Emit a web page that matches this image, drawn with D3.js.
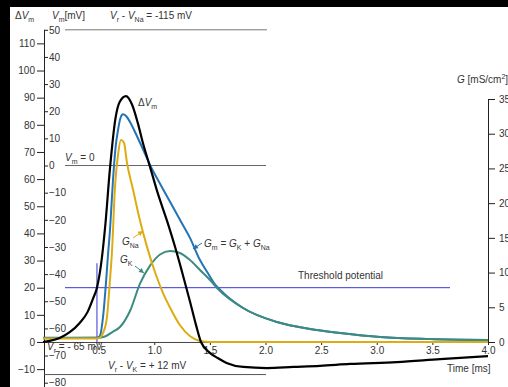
<!DOCTYPE html>
<html><head><meta charset="utf-8">
<script src="https://cdn.jsdelivr.net/npm/d3@7"></script>
<style>
html,body{margin:0;padding:0;background:#000;overflow:hidden;}
svg{display:block;}
text{font-family:"Liberation Sans",Arial,sans-serif;font-size:10px;fill:#333;}
</style></head><body>
<svg id="c" width="508" height="387"></svg>
<script>
// ---- data ----
const dVmTime = [0,0.06,0.15,0.24,0.33,0.40,0.45,0.485,0.52,0.56,0.60,0.65,0.69,0.746,0.80,0.85,0.90,0.96,1.03,1.115,1.19,1.25,1.32,1.375,1.42,1.50,1.57,1.65,1.80,2.01,2.25,2.49,2.76,3.18,3.57,4.0];
const dVmValues = [0,0.4,1.5,3.6,7,11,16,20,28,43,63,82,88.5,90.6,87.5,81,73,64.8,55,44.6,34.6,25.8,15.1,6.3,0,-4,-5.9,-7.7,-9.2,-9.6,-9.2,-8.8,-8.1,-7.4,-6.3,-5.2];

const gNaTime = [0,0.48,0.51,0.54,0.575,0.60,0.62,0.647,0.674,0.70,0.728,0.755,0.81,0.87,0.935,1.01,1.08,1.14,1.23,1.32,1.41,1.50,4.0];
const gNaValues = [0.5,0.5,0.6,1.3,3.6,8.5,13,22.3,26.9,29.1,28.7,25.8,21.9,17.6,13.7,9.9,7.0,5.0,2.45,0.86,0.14,0,0];

const gKTime = [0,0.485,0.557,0.62,0.692,0.782,0.872,0.962,1.052,1.142,1.231,1.321,1.411,1.501,1.564,1.798,2.103,2.4,2.67,3.03,3.48,4.0];
const gKValues = [0.55,0.6,0.8,1.4,2.16,4.46,8.4,11.0,12.6,13.1,12.82,11.81,10.37,8.93,7.78,4.9,2.88,1.87,1.3,0.72,0.43,0.29];

const gmTime = [0,0.485,0.512,0.539,0.566,0.584,0.602,0.629,0.652,0.674,0.697,0.719,0.746,0.782,0.827,0.872,0.917,0.962,1.052,1.142,1.231,1.321,1.411,1.483,1.546,1.60,1.798,2.103,2.4,2.67,3.03,3.48,4.0];
const gmValues = [0.6,0.6,0.9,3.5,8.5,12.5,16.1,23.3,28,30.5,32.3,32.8,32.55,31.7,30.25,28.7,27.1,25.5,22.8,20.2,17.6,15.0,11.8,9.9,8.3,7.4,4.9,2.88,1.87,1.3,0.72,0.43,0.29];

const dVmTicks = [110,100,90,80,70,60,50,40,30,20,10,0,-10];
const vmTicks = [50,40,30,20,10,0,-10,-20,-30,-40,-50,-60,-70,-80];
const gTicks = [35,30,25,20,15,10,5,0];
const timeTicks = [0.5,1.0,1.5,2.0,2.5,3.0,3.5,4.0];
const thresholdDVm = 20;
const thresholdTime = 0.485;
const naRevDVm = 115, kRevDVm = -12, vmZeroDVm = 65;

// ---- scales ----
const x = d3.scaleLinear().domain([0,4]).range([43,488]);
const yV = d3.scaleLinear().domain([-15,115]).range([382.7,29.8]);
const yVm = d3.scaleLinear().domain([-80,50]).range([382.7,29.8]);
const yG = d3.scaleLinear().domain([0,35]).range([342,99]);

const svg = d3.select("#c");
svg.append("rect").attr("x",10).attr("y",7).attr("width",498).attr("height",380).attr("fill","#fff");

const axisColor = "#222";
function styleAxis(g){
  g.select(".domain").remove();
  g.selectAll(".tick line").attr("stroke",axisColor);
  g.selectAll(".tick text").attr("fill","#333").style("font-family","Liberation Sans, Arial, sans-serif").style("font-size","10px");
}

// left ΔVm axis
const gL = svg.append("g").attr("transform","translate(44,0)")
  .call(d3.axisLeft(yV).tickValues(dVmTicks).tickSize(7).tickPadding(2).tickFormat(d3.format("d")));
styleAxis(gL);
// inner Vm axis
const gI = svg.append("g").attr("transform","translate(44,0)")
  .call(d3.axisRight(yVm).tickValues(vmTicks).tickSize(4).tickPadding(1).tickFormat(d3.format("d")));
styleAxis(gI);
svg.append("line").attr("x1",44.5).attr("x2",44.5).attr("y1",yVm(50)).attr("y2",387).attr("stroke",axisColor);

// right G axis
const gR = svg.append("g").attr("transform","translate(488,0)")
  .call(d3.axisRight(yG).tickValues(gTicks).tickSize(7).tickPadding(4).tickFormat(d3.format("d")));
styleAxis(gR);
svg.append("line").attr("x1",488.5).attr("x2",488.5).attr("y1",yG(35)).attr("y2",yG(0)).attr("stroke",axisColor);

// bottom time axis
const gB = svg.append("g").attr("transform",`translate(0,${yV(0)})`)
  .call(d3.axisBottom(x).tickValues(timeTicks).tickSize(3).tickPadding(2).tickFormat(d3.format(".1f")));
styleAxis(gB);
svg.append("line").attr("x1",44).attr("x2",488).attr("y1",yV(0)+0.5).attr("y2",yV(0)+0.5).attr("stroke","#444");

// reference lines
svg.append("line").attr("x1",65).attr("x2",267).attr("y1",yV(naRevDVm)).attr("y2",yV(naRevDVm)).attr("stroke","#777");
svg.append("line").attr("x1",65).attr("x2",266).attr("y1",yV(vmZeroDVm)).attr("y2",yV(vmZeroDVm)).attr("stroke","#666");
svg.append("line").attr("x1",44).attr("x2",266).attr("y1",yV(kRevDVm)).attr("y2",yV(kRevDVm)).attr("stroke","#555");

// threshold
svg.append("line").attr("x1",65).attr("x2",450).attr("y1",yV(thresholdDVm)).attr("y2",yV(thresholdDVm)).attr("stroke","#3535d8");
svg.append("line").attr("x1",x(thresholdTime)).attr("x2",x(thresholdTime)).attr("y1",yV(29)).attr("y2",yV(0)).attr("stroke","#3535d8");

// curves
function curve(t, v, ys, color, w){
  const pts = t.map((d,i)=>[d, v[i]]);
  svg.append("path").datum(pts)
    .attr("d", d3.line().x(d=>x(d[0])).y(d=>ys(d[1])).curve(d3.curveMonotoneX))
    .attr("fill","none").attr("stroke",color).attr("stroke-width",w).attr("stroke-linejoin","round");
}
const cGm = "#2473b5", cK = "#3d8a80", cNa = "#dcac12";
curve(gmTime, gmValues, yG, cGm, 2);
curve(gKTime, gKValues, yG, cK, 2);
curve(gNaTime, gNaValues, yG, cNa, 2);
curve(dVmTime, dVmValues, yV, "#000", 2.2);

// text helper
function rich(xp, yp, parts, size){
  size = size||10;
  const t = svg.append("text").attr("x",xp).attr("y",yp).style("font-size",size+"px");
  let shift = 0;
  parts.forEach(p=>{
    const s = t.append("tspan").text(p.t);
    const target = p.sub?3:(p.sup?-4:0);
    if(target!==shift){ s.attr("dy", target-shift); shift = target; }
    if(p.sub||p.sup) s.style("font-size","7px");
    if(p.i) s.style("font-style","italic");
  });
  return t;
}
rich(15,19,[{t:"Δ"},{t:"V",i:true},{t:"m",sub:true}]);
rich(52,19,[{t:"V",i:true},{t:"m",sub:true},{t:"[mV]"}]);
rich(110,19,[{t:"V",i:true},{t:"r",sub:true},{t:" - "},{t:"V",i:true},{t:"Na",sub:true},{t:" = -115 mV"}]);
rich(138,106,[{t:"Δ"},{t:"V",i:true},{t:"m",sub:true}]);
rich(65,161,[{t:"V",i:true},{t:"m",sub:true},{t:" = 0"}]);
rich(122,245,[{t:"G",i:true},{t:"Na",sub:true}]);
rich(120,263,[{t:"G",i:true},{t:"K",sub:true}]);
rich(204,247,[{t:"G",i:true},{t:"m",sub:true},{t:" = "},{t:"G",i:true},{t:"K",sub:true},{t:" + "},{t:"G",i:true},{t:"Na",sub:true}]);
svg.append("text").attr("x",298).attr("y",279).text("Threshold potential");
rich(47,350,[{t:"V",i:true},{t:"r",sub:true},{t:" = - 65 mV"}]);
rich(108,369,[{t:"V",i:true},{t:"r",sub:true},{t:" - "},{t:"V",i:true},{t:"K",sub:true},{t:" = + 12 mV"}]);
svg.append("text").attr("x",447).attr("y",372).text("Time [ms]");
rich(457,83,[{t:"G",i:true},{t:" [mS/cm"},{t:"2",sup:true},{t:"]"}]);

// arrows
function arrow(x1,y1,x2,y2,color){
  svg.append("line").attr("x1",x1).attr("y1",y1).attr("x2",x2).attr("y2",y2).attr("stroke",color).attr("stroke-width",1);
  const a = Math.atan2(y2-y1,x2-x1), L=5, W=2.5;
  const bx = x2 - L*Math.cos(a), by = y2 - L*Math.sin(a);
  svg.append("path").attr("d",`M${x2},${y2}L${bx - W*Math.sin(a)},${by + W*Math.cos(a)}L${bx + W*Math.sin(a)},${by - W*Math.cos(a)}Z`).attr("fill",color);
}
arrow(133,238,143,231,cNa);
arrow(135,266,144,273,cK);
arrow(202,243,193,249,cGm);
</script>
</body></html>
